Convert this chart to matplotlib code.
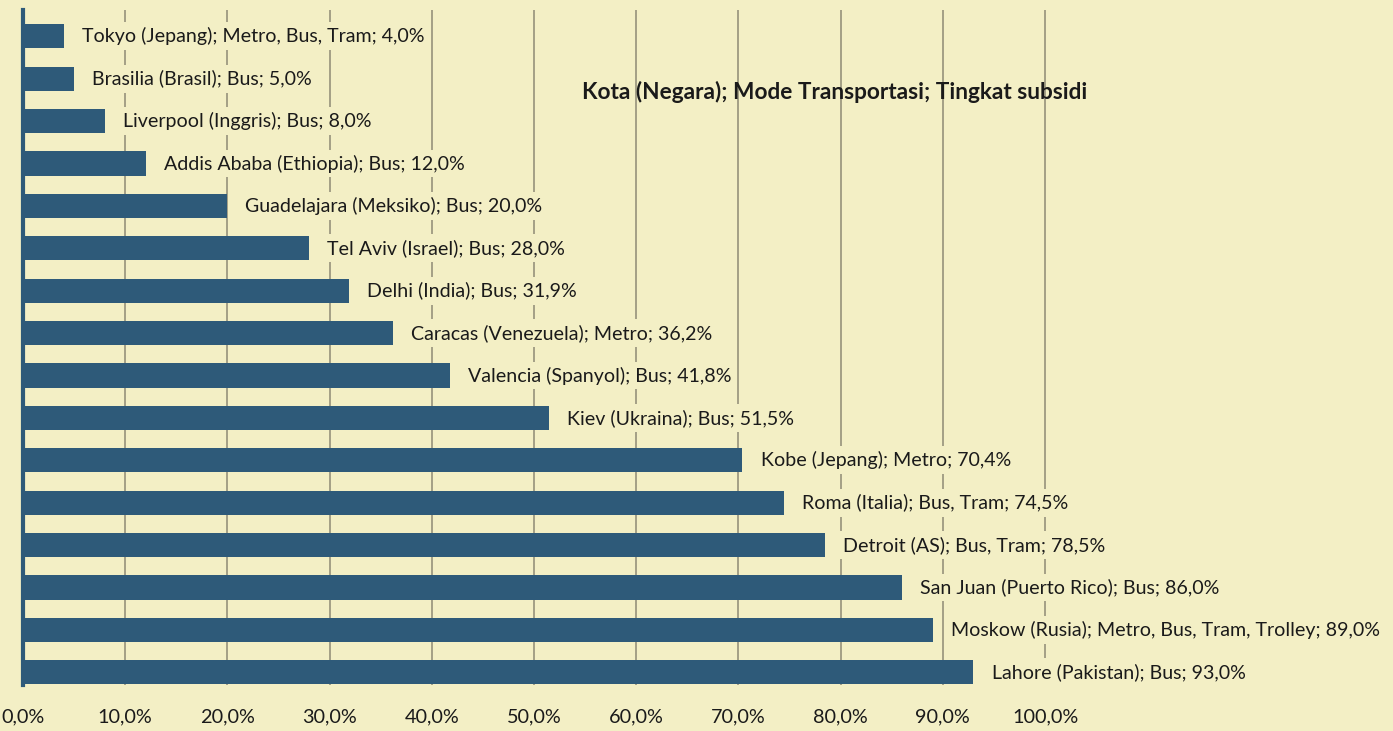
import matplotlib.pyplot as plt

kota = ["Tokyo (Jepang)", "Brasilia (Brasil)", "Liverpool (Inggris)", "Addis Ababa (Ethiopia)",
        "Guadelajara (Meksiko)", "Tel Aviv (Israel)", "Delhi (India)", "Caracas (Venezuela)",
        "Valencia (Spanyol)", "Kiev (Ukraina)", "Kobe (Jepang)", "Roma (Italia)",
        "Detroit (AS)", "San Juan (Puerto Rico)", "Moskow (Rusia)", "Lahore (Pakistan)"]
mode = ["Metro, Bus, Tram", "Bus", "Bus", "Bus", "Bus", "Bus", "Bus", "Metro",
        "Bus", "Bus", "Metro", "Bus, Tram", "Bus, Tram", "Bus", "Metro, Bus, Tram, Trolley", "Bus"]
subsidi = [4.0, 5.0, 8.0, 12.0, 20.0, 28.0, 31.9, 36.2, 41.8, 51.5, 70.4, 74.5, 78.5, 86.0, 89.0, 93.0]
xticks = [0, 10, 20, 30, 40, 50, 60, 70, 80, 90, 100]

bg = '#F3EFC5'
bar_col = '#2E5A79'

plt.rcParams['font.family'] = ['Lato', 'DejaVu Sans']

fig = plt.figure(figsize=(13.93, 7.31), dpi=100, facecolor=bg)
ax = fig.add_axes([23 / 1393, 46 / 731, 1 - 23 / 1393, 675 / 731])
ax.set_facecolor(bg)

y = list(range(len(kota)))
ax.barh(y, subsidi, height=0.57, color=bar_col, zorder=2)

for i, (k, m, v) in enumerate(zip(kota, mode, subsidi)):
    lbl = f"{k}; {m}; {v:.1f}%".replace('.', ',')
    ax.annotate(lbl, (v, i), xytext=(13, 0), textcoords='offset points',
                va='center', ha='left', fontsize=14.1, color='#1a1a1a', zorder=3,
                bbox=dict(facecolor=bg, edgecolor='none', pad=3.5))

ax.text(0.418, 0.874, "Kota (Negara); Mode Transportasi; Tingkat subsidi",
        transform=fig.transFigure, fontsize=16.3, fontweight='bold', color='#1a1a1a',
        ha='left', va='center', zorder=3)

ax.set_xlim(0, 1370 / 10.22)
ax.set_ylim(15.3, -0.62)
ax.set_xticks(xticks)
ax.set_xticklabels([f"{t:.1f}%".replace('.', ',') for t in xticks], fontsize=14.3, color='#1a1a1a')
ax.set_yticks([])
ax.tick_params(axis='x', length=0, pad=17)
ax.grid(axis='x', color='#A39F86', linewidth=1.4, zorder=1)
ax.set_axisbelow(True)
for s in ['top', 'right', 'bottom']:
    ax.spines[s].set_visible(False)
ax.spines['left'].set_color(bar_col)
ax.spines['left'].set_linewidth(3)
ax.spines['left'].set_zorder(4)

fig.savefig('out.png', dpi=100, facecolor=bg)
